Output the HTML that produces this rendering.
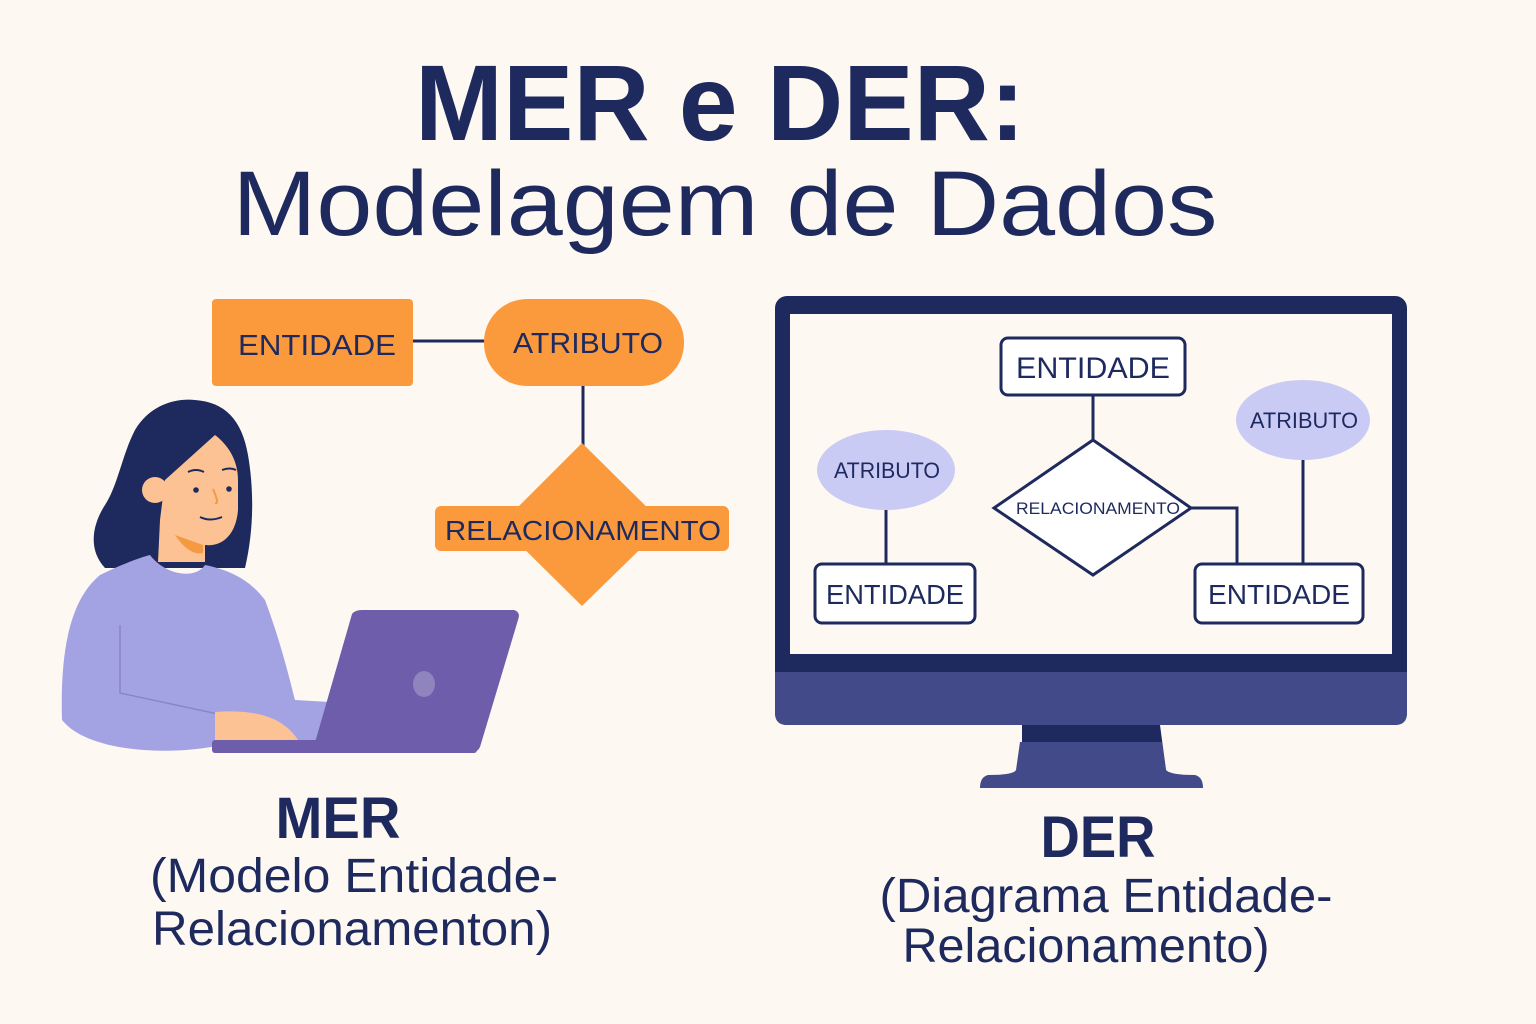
<!DOCTYPE html>
<html><head><meta charset="utf-8"><style>
html,body{margin:0;padding:0;background:#fdf9f2;}
svg{display:block}
text{font-family:"Liberation Sans",sans-serif;fill:#1e2a5e}
</style></head><body>
<svg width="1536" height="1024" viewBox="0 0 1536 1024" xmlns="http://www.w3.org/2000/svg">
<rect width="1536" height="1024" fill="#fdf9f2"/>
<text x="720" y="140" font-size="108" font-weight="bold" text-anchor="middle" textLength="610" lengthAdjust="spacingAndGlyphs">MER e DER:</text>
<text x="725" y="235" font-size="92" text-anchor="middle" textLength="985" lengthAdjust="spacingAndGlyphs">Modelagem de Dados</text>

<!-- left MER diagram -->
<line x1="413" y1="341" x2="486" y2="341" stroke="#1e2a5e" stroke-width="3"/>
<line x1="583" y1="386" x2="583" y2="446" stroke="#1e2a5e" stroke-width="3"/>
<rect x="212" y="299" width="201" height="87" rx="4" fill="#fb9a3c"/>
<text x="317" y="355" font-size="29" text-anchor="middle" textLength="158" lengthAdjust="spacingAndGlyphs">ENTIDADE</text>
<rect x="484" y="299" width="200" height="87" rx="43" fill="#fb9a3c"/>
<text x="588" y="353" font-size="29" text-anchor="middle" textLength="150" lengthAdjust="spacingAndGlyphs">ATRIBUTO</text>
<polygon points="582,443 665,525 582,606 500,525" fill="#fb9a3c"/>
<rect x="435" y="506" width="294" height="45" rx="6" fill="#fb9a3c"/>
<text x="583" y="540" font-size="28" text-anchor="middle" textLength="276" lengthAdjust="spacingAndGlyphs">RELACIONAMENTO</text>

<!-- woman -->
<path d="M105,568 C88,550 92,525 105,505 C118,485 122,455 135,430 C150,405 175,398 195,400 C225,402 242,420 248,455 C254,490 254,530 245,568 Z" fill="#1e2a5e"/>
<path d="M165,480 L215,435 C228,445 238,460 238,480 L238,510 C236,535 222,547 205,545 L205,562 L158,562 L160,520 Z" fill="#fcc293"/>
<circle cx="155" cy="490" r="13" fill="#fcc293"/>
<path d="M175,535 C185,550 195,555 203,553 L203,545 Z" fill="#f59a40"/>
<circle cx="196" cy="490" r="2.8" fill="#1e2a5e"/><circle cx="229" cy="489" r="2.8" fill="#1e2a5e"/>
<path d="M188,472 Q196,468 204,472 M222,470 Q230,467 236,470" stroke="#1e2a5e" stroke-width="2" fill="none"/>
<path d="M213,489 Q220,505 215,503" stroke="#f59a40" stroke-width="2" fill="none"/>
<path d="M200,517 Q210,522 222,517" stroke="#1e2a5e" stroke-width="2" fill="none"/>
<path d="M62,720 C60,650 70,600 100,575 C130,560 150,555 150,555 C165,575 195,580 205,565 C230,570 250,580 265,600 C280,640 290,680 295,700 L330,702 L320,740 L220,745 C180,755 90,755 62,720 Z" fill="#a3a3e4"/>
<path d="M120,625 L120,693 L218,714" stroke="#8a86c2" stroke-width="1.5" fill="none"/>
<path d="M215,712 C245,710 280,712 298,740 L215,742 Z" fill="#fcc293"/>
<path d="M352,614 Q355,610 362,610 L514,610 Q521,612 518,620 L480,747 Q477,753 470,753 L312,753 Z" fill="#6e5dab"/>
<rect x="212" y="740" width="265" height="13" rx="3" fill="#6e5dab"/>
<ellipse cx="424" cy="684" rx="11" ry="13" fill="#8f84bd"/>

<text x="338" y="838" font-size="58" font-weight="bold" text-anchor="middle" textLength="125" lengthAdjust="spacingAndGlyphs">MER</text>
<text x="354" y="892" font-size="48" text-anchor="middle" textLength="408" lengthAdjust="spacingAndGlyphs">(Modelo Entidade-</text>
<text x="352" y="945" font-size="48" text-anchor="middle" textLength="400" lengthAdjust="spacingAndGlyphs">Relacionamenton)</text>

<!-- monitor -->
<rect x="775" y="296" width="632" height="429" rx="12" fill="#1e2a5e"/>
<path d="M775,672 L1407,672 L1407,713 Q1407,725 1395,725 L787,725 Q775,725 775,713 Z" fill="#434a8a"/>
<path d="M1022,725 L1160,725 L1166,770 L1022,770 Z" fill="#1e2a5e"/>
<path d="M1020,742 L1162,742 L1166,770 Q1170,775 1195,775 Q1203,777 1203,788 L980,788 Q980,777 988,775 Q1014,775 1016,770 Z" fill="#434a8a"/>
<rect x="790" y="314" width="602" height="340" fill="#fdf9f2"/>

<g stroke="#1e2a5e" stroke-width="3" fill="none">
<line x1="1093" y1="395" x2="1093" y2="441"/>
<polyline points="1191,508 1237,508 1237,565"/>
<line x1="1303" y1="460" x2="1303" y2="565"/>
<line x1="886" y1="510" x2="886" y2="565"/>
</g>
<rect x="1001" y="338" width="184" height="57" rx="7" fill="#fff" stroke="#1e2a5e" stroke-width="3"/>
<text x="1093" y="378" font-size="30" text-anchor="middle" textLength="154" lengthAdjust="spacingAndGlyphs">ENTIDADE</text>
<polygon points="1093,440 1191,508 1093,575 994,508" fill="#fff" stroke="#1e2a5e" stroke-width="3"/>
<text x="1098" y="514" font-size="17" text-anchor="middle" textLength="164" lengthAdjust="spacingAndGlyphs">RELACIONAMENTO</text>
<ellipse cx="1303" cy="420" rx="67" ry="40" fill="#c9cbf5"/>
<text x="1304" y="428" font-size="22" text-anchor="middle" textLength="108" lengthAdjust="spacingAndGlyphs">ATRIBUTO</text>
<ellipse cx="886" cy="470" rx="69" ry="40" fill="#c9cbf5"/>
<text x="887" y="478" font-size="22" text-anchor="middle" textLength="106" lengthAdjust="spacingAndGlyphs">ATRIBUTO</text>
<rect x="815" y="564" width="160" height="59" rx="7" fill="#fff" stroke="#1e2a5e" stroke-width="3"/>
<text x="895" y="604" font-size="28" text-anchor="middle" textLength="138" lengthAdjust="spacingAndGlyphs">ENTIDADE</text>
<rect x="1195" y="564" width="168" height="59" rx="7" fill="#fff" stroke="#1e2a5e" stroke-width="3"/>
<text x="1279" y="604" font-size="28" text-anchor="middle" textLength="142" lengthAdjust="spacingAndGlyphs">ENTIDADE</text>

<text x="1098" y="857" font-size="58" font-weight="bold" text-anchor="middle" textLength="115" lengthAdjust="spacingAndGlyphs">DER</text>
<text x="1106" y="912" font-size="48" text-anchor="middle" textLength="453" lengthAdjust="spacingAndGlyphs">(Diagrama Entidade-</text>
<text x="1086" y="962" font-size="48" text-anchor="middle" textLength="367" lengthAdjust="spacingAndGlyphs">Relacionamento)</text>
</svg>
</body></html>
